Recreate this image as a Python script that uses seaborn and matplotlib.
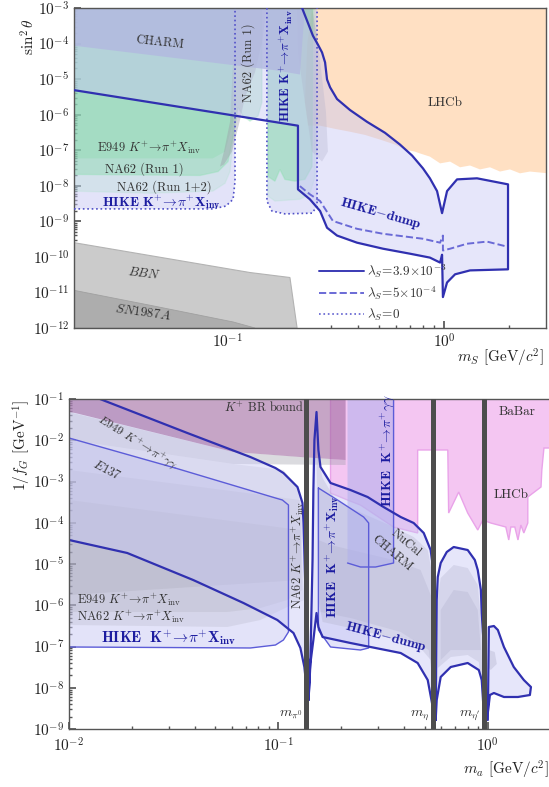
import numpy as np
import matplotlib
matplotlib.use("Agg")
import matplotlib.pyplot as plt
from matplotlib.lines import Line2D
from matplotlib.ticker import LogLocator, NullFormatter
import seaborn as sns

# ======================= data (log10 coordinates) =======================
# ---- upper panel: dark scalar, x = log10(m_S / GeV), y = log10(sin^2 theta)
dump_up_lx = [-0.654, -0.636, -0.604, -0.581, -0.562, -0.548, -0.539, -0.525, -0.493, -0.433,
              -0.355, -0.272, -0.203, -0.147, -0.097, -0.065, -0.032, -0.009, 0.014, 0.060, 0.152, 0.295]
dump_up_ly = [-3.0, -3.28, -3.78, -4.03, -4.25, -4.53, -5.01, -5.23, -5.56, -5.87,
              -6.20, -6.51, -6.84, -7.15, -7.51, -7.79, -8.15, -8.77, -8.15, -7.82, -7.79, -7.96]
dump_lo_lx = [-1.705, -0.673, -0.673, -0.618, -0.571, -0.539, -0.493, -0.401, -0.281, -0.157,
              -0.065, -0.018, -0.009, -0.005, 0.014, 0.051, 0.120, 0.295]
dump_lo_ly = [-5.31, -6.31, -8.10, -8.38, -8.71, -9.18, -9.40, -9.60, -9.77, -9.91,
              -10.02, -10.16, -9.94, -11.13, -10.72, -10.49, -10.38, -10.35]
dump5_lx = [-0.664, -0.618, -0.571, -0.512, -0.401, -0.281, -0.097, -0.018, -0.005, -0.005,
            0.028, 0.106, 0.198, 0.290]
dump5_ly = [-8.01, -8.24, -8.43, -8.99, -9.21, -9.35, -9.49, -9.60, -9.40, -9.82,
            -9.77, -9.63, -9.57, -9.71]
kpi_a_lx = [-1.705, -1.065, -1.005, -0.972, -0.963, -0.963]
kpi_a_ly = [-8.65, -8.65, -8.57, -8.38, -7.87, -3.0]
kpi_b_lx = [-0.816, -0.816, -0.793, -0.733, -0.608, -0.585, -0.585]
kpi_b_ly = [-3.0, -8.43, -8.71, -8.79, -8.77, -8.57, -3.0]

na62r1_a_lx = [-1.705, -0.839, -0.839, -0.857, -0.894, -0.926, -0.949, -0.972, -0.995, -1.041, -1.124, -1.705]
na62r1_a_ly = [-3.0, -3.0, -5.65, -6.04, -6.18, -6.04, -5.79, -6.62, -7.32, -7.60, -7.71, -7.68]
na62r12_a_lx = [-1.705, -0.972, -0.972, -0.986, -1.009, -1.065, -1.355, -1.705]
na62r12_a_ly = [-3.0, -3.0, -6.76, -7.60, -7.93, -8.15, -8.21, -8.15]
e949_lx = [-1.705, -0.972, -0.972, -1.009, -1.065, -1.705]
e949_ly = [-3.0, -3.0, -6.20, -7.04, -7.23, -7.23]
na62r1_b_lx = [-0.811, -0.811, -0.779, -0.756, -0.733, -0.687, -0.641, -0.608, -0.604]
na62r1_b_ly = [-3.0, -7.74, -7.87, -7.54, -7.82, -7.87, -7.82, -7.46, -3.0]
na62r12_b_lx = [-0.811, -0.811, -0.779, -0.664, -0.618, -0.594, -0.594]
na62r12_b_ly = [-3.0, -8.29, -8.43, -8.38, -8.24, -7.74, -3.0]
col_gray_lx = [-0.972, -0.816, -0.839, -0.871, -0.917, -0.940, -0.977, -1.014, -1.032, -1.014, -0.986, -0.972]
col_gray_ly = [-3.0, -3.0, -3.97, -4.81, -5.51, -6.15, -7.04, -7.40, -7.46, -7.04, -6.20, -4.53]
mid_gray_lx = [-0.677, -0.608, -0.581, -0.544, -0.535, -0.562, -0.608, -0.641, -0.673]
mid_gray_ly = [-3.0, -3.0, -3.97, -5.92, -7.04, -7.32, -7.04, -5.65, -4.25]
charm_lx = [-1.705, -0.641, -0.664, -0.779, -1.705]
charm_ly = [-3.0, -3.0, -4.87, -4.75, -4.06]
lhcb_lx = [-0.608, 0.48, 0.48, 0.396, 0.350, 0.304, 0.258, 0.212, 0.166, 0.120, 0.074, 0.028,
           -0.018, -0.065, -0.111, -0.134, -0.180, -0.226, -0.295, -0.364, -0.433, -0.502,
           -0.571, -0.627, -0.641, -0.630]
lhcb_ly = [-3.0, -3.0, -7.65, -7.60, -7.65, -7.54, -7.60, -7.48, -7.54, -7.43, -7.48, -7.32,
           -7.37, -7.18, -7.09, -7.04, -6.98, -6.84, -6.70, -6.57, -6.48, -6.40,
           -6.31, -6.31, -5.65, -4.0]
bbn_lx = [-1.705, -0.894, -0.710, -0.677, -1.705]
bbn_ly = [-9.60, -10.44, -10.58, -12.0, -12.0]
sn_lx = [-1.705, -1.355, -0.972, -0.871, -1.705]
sn_ly = [-10.94, -11.36, -11.83, -12.0, -12.0]

# ---- lower panel: ALP with gluon coupling, x = log10(m_a / GeV), y = log10(1/f_G * GeV)
m_pi0, m_eta, m_etap = 0.135, 0.548, 0.958

dA_up_lx = [-1.852, -1.435, -1.134, -1.014, -0.976, -0.909, -0.885, -0.880, -0.871, -0.866, -0.861]
dA_up_ly = [-1.0, -1.824, -2.406, -2.673, -2.794, -3.133, -3.521, -4.006, -5.630, -7.230, -8.297]
dA_lo_lx = [-2.0, -1.722, -1.407, -1.167, -1.005, -0.928, -0.895, -0.876, -0.866, -0.861]
dA_lo_ly = [-4.418, -4.733, -5.388, -5.945, -6.358, -6.673, -7.036, -7.497, -7.982, -8.297]
dB_lx = [-0.856, -0.847, -0.837, -0.833, -0.828, -0.818, -0.809, -0.799, -0.751, -0.656, -0.574,
         -0.498, -0.416, -0.354, -0.306, -0.273, -0.258, -0.258,
         -0.263, -0.287, -0.335, -0.416, -0.656, -0.789, -0.809, -0.818, -0.833, -0.847, -0.856]
dB_ly = [-8.297, -7.255, -4.903, -3.206, -1.994, -1.315, -2.236, -2.648, -3.036, -3.206, -3.376,
         -3.618, -3.861, -4.006, -4.248, -4.661, -5.218, -8.782,
         -8.467, -7.812, -7.400, -7.158, -6.915, -6.770, -6.527, -6.188, -6.842, -7.400, -8.297]
dC_lx = [-0.249, -0.244, -0.239, -0.225, -0.196, -0.163, -0.096, -0.062, -0.048, -0.033, -0.029,
         -0.019, -0.014, -0.019, -0.029, -0.043, -0.096, -0.177, -0.225, -0.244, -0.249]
dC_ly = [-8.782, -5.873, -5.315, -4.976, -4.709, -4.588, -4.661, -4.903, -5.145, -5.630, -6.188,
         -7.012, -8.782, -8.612, -7.812, -7.570, -7.400, -7.497, -7.739, -8.297, -8.782]
dD_lx = [0.0, 0.005, 0.029, 0.048, 0.077, 0.124, 0.172, 0.206, 0.201, 0.144, 0.077, 0.029, 0.010, 0.0]
dD_ly = [-8.782, -6.527, -6.503, -6.600, -7.012, -7.497, -7.812, -7.982, -8.176, -8.224, -8.224,
         -8.127, -8.176, -8.612]

hk_a_lx = [-2.0, -1.493, -1.014, -0.981, -0.952, -0.952, -0.976, -1.014, -1.134, -2.0]
hk_a_ly = [-1.945, -2.673, -3.400, -3.448, -3.570, -6.648, -6.842, -6.964, -7.036, -7.012]
hk_b_lx = [-0.809, -0.718, -0.593, -0.569, -0.569, -0.608, -0.751, -0.785, -0.809]
hk_b_ly = [-3.158, -3.448, -3.861, -4.006, -7.036, -7.085, -7.012, -6.770, -6.600]
hgg_lx = [-0.670, -0.450, -0.450, -0.536, -0.608, -0.670]
hgg_ly = [-1.0, -1.0, -4.976, -5.073, -5.073, -4.976]
brb_lx = [-2.0, -0.679, -0.679, -0.895, -1.215, -1.971, -2.0]
brb_ly = [-1.0, -1.0, -2.479, -2.406, -2.285, -1.339, -1.315]
e949gg_lx = [-2.0, -1.215, -0.679, -0.679, -1.215, -2.0]
e949gg_ly = [-1.315, -2.285, -2.479, -2.600, -2.576, -1.994]
e137_lx = [-2.0, -1.215, -0.976, -0.909, -0.885, -0.895, -2.0]
e137_ly = [-1.994, -2.576, -2.721, -3.133, -3.933, -5.388, -5.752]
e949k_lx = [-2.0, -0.895, -0.885, -0.957, -1.086, -1.244, -2.0]
e949k_ly = [-2.721, -3.448, -5.630, -5.873, -6.067, -6.164, -6.164]
na62k_lx = [-2.0, -0.895, -0.876, -0.957, -1.086, -1.244, -2.0]
na62k_ly = [-3.448, -4.176, -5.873, -6.042, -6.358, -6.527, -6.479]
nucal_lx = [-0.818, -0.789, -0.727, -0.656, -0.450, -0.354, -0.287, -0.263, -0.258, -0.273,
            -0.321, -0.416, -0.656, -0.789, -0.809]
nucal_ly = [-2.236, -2.915, -3.448, -3.642, -4.103, -4.345, -4.661, -5.315, -8.297, -7.327,
            -7.036, -6.842, -6.552, -6.406, -5.873]
charmb_lx = [-0.809, -0.751, -0.450, -0.321, -0.263, -0.258, -0.282, -0.416, -0.656, -0.799]
charmb_ly = [-4.418, -4.539, -4.903, -5.145, -5.873, -8.055, -7.085, -6.648, -6.309, -6.164]
gEE_lx = [-0.239, -0.225, -0.163, -0.096, -0.048, -0.033, -0.024, -0.043, -0.096, -0.177, -0.239]
gEE_ly = [-5.873, -5.339, -5.024, -5.097, -5.509, -6.358, -8.297, -7.376, -7.206, -7.255, -7.521]
gEE2_lx = [-0.225, -0.163, -0.096, -0.048, -0.033, -0.081, -0.177, -0.225]
gEE2_ly = [-6.115, -5.630, -5.679, -6.115, -7.085, -7.085, -7.085, -7.327]
gR_lx = [0.005, 0.033, 0.043, 0.014, 0.005]
gR_ly = [-7.085, -7.133, -7.424, -7.570, -7.521]
pink_lx = [-0.751, 0.297, 0.297, 0.268, 0.258, 0.254, 0.191, 0.191, 0.172, 0.158, 0.144, 0.129,
           0.110, 0.100, 0.086, 0.014, -0.024, -0.048, -0.096, -0.139, -0.187, -0.191, -0.335,
           -0.335, -0.392, -0.450, -0.608, -0.670, -0.751]
pink_ly = [-1.0, -1.0, -2.188, -2.188, -2.721, -3.133, -3.376, -4.006, -4.248, -4.055, -4.418,
           -4.103, -4.103, -4.418, -4.103, -4.006, -3.933, -4.176, -3.764, -3.255, -3.764, -2.236,
           -2.236, -4.248, -4.176, -4.103, -3.570, -3.448, -3.279]

# ======================= style =======================
sns.set_theme(style="ticks")
plt.rcParams.update({
    "font.family": ["serif"],
    "font.serif": ["cmr10"],
    "mathtext.fontset": "cm",
    "axes.unicode_minus": False,
    "axes.formatter.use_mathtext": True,
    "axes.edgecolor": "#555555",
    "axes.linewidth": 1.0,
    "xtick.direction": "in",
    "ytick.direction": "in",
    "xtick.color": "#555555",
    "ytick.color": "#555555",
    "xtick.labelcolor": "#222222",
    "ytick.labelcolor": "#222222",
    "xtick.labelsize": 11,
    "ytick.labelsize": 11,
    "xtick.major.size": 5,
    "ytick.major.size": 5,
    "xtick.minor.size": 2.5,
    "ytick.minor.size": 2.5,
})

LAV = "#c8c8f5"
GREEN = "#7ad8a0"
GRAY = "#9a9aa6"
DARK = "#3030b0"
THIN = "#5c5cd8"
TXT = "#333333"
HIKE_C = "#1c1ca0"


def P(v):
    return np.power(10.0, np.asarray(v, dtype=float))


def fill_log(ax, lx, ly, **kw):
    ax.fill(P(lx), P(ly), **kw)


def trace_log(ax, lx, ly, **kw):
    sns.lineplot(x=P(lx), y=P(ly), sort=False, estimator=None, ax=ax, legend=False, **kw)


def label(ax, lx, ly, s, **kw):
    ax.text(10 ** lx, 10 ** ly, s, **kw)


def log_axes(ax):
    ax.set_xscale("log")
    ax.set_yscale("log")
    for axis in (ax.xaxis, ax.yaxis):
        axis.set_major_locator(LogLocator(base=10, numticks=30))
        axis.set_minor_locator(LogLocator(base=10, subs=np.arange(2, 10), numticks=300))
        axis.set_minor_formatter(NullFormatter())


fig = plt.figure(figsize=(5.49, 7.87), dpi=100)

# ======================= upper panel =======================
ax = fig.add_axes([74 / 549, 1 - 328 / 787, 472 / 549, 320 / 787])
log_axes(ax)

fill_log(ax, lhcb_lx, lhcb_ly, color="#ffd9b5", alpha=0.8, lw=0, zorder=1.0)
fill_log(ax, bbn_lx, bbn_ly, facecolor="#cbcbcb", edgecolor="#b3b3b3", lw=0.8, zorder=1.0)
fill_log(ax, sn_lx, sn_ly, facecolor="#adadad", edgecolor="#a0a0a0", lw=0.6, zorder=1.05)
fill_log(ax, kpi_a_lx + [-1.705], kpi_a_ly + [-3.0], color=LAV, alpha=0.5, lw=0, zorder=1.1)
fill_log(ax, kpi_b_lx, kpi_b_ly, color=LAV, alpha=0.5, lw=0, zorder=1.1)
fill_log(ax, e949_lx, e949_ly, color=GREEN, alpha=0.25, lw=0, zorder=1.2)
fill_log(ax, na62r1_a_lx, na62r1_a_ly, facecolor=GREEN, alpha=0.35, edgecolor="#8fe3b3", lw=1, zorder=1.25)
fill_log(ax, na62r12_a_lx, na62r12_a_ly, facecolor=GREEN, alpha=0.15, edgecolor="#8fe3b3", lw=1, zorder=1.3)
fill_log(ax, na62r1_b_lx, na62r1_b_ly, facecolor=GREEN, alpha=0.4, edgecolor="#8fe3b3", lw=1, zorder=1.25)
fill_log(ax, na62r12_b_lx, na62r12_b_ly, facecolor=GREEN, alpha=0.15, edgecolor="#8fe3b3", lw=1, zorder=1.3)
fill_log(ax, col_gray_lx, col_gray_ly, color=GRAY, alpha=0.4, lw=0, zorder=1.35)
fill_log(ax, mid_gray_lx, mid_gray_ly, color=GRAY, alpha=0.3, lw=0, zorder=1.35)
fill_log(ax, [-1.705] + dump_up_lx + dump_lo_lx[::-1], [-3.0] + dump_up_ly + dump_lo_ly[::-1],
         color=LAV, alpha=0.45, lw=0, zorder=1.4)
fill_log(ax, charm_lx, charm_ly, color="#b2b8e0", alpha=0.8, lw=0, zorder=1.5)

trace_log(ax, kpi_a_lx, kpi_a_ly, color="#5050c8", linewidth=1.2, linestyle=":", zorder=3)
trace_log(ax, kpi_b_lx, kpi_b_ly, color="#5050c8", linewidth=1.2, linestyle=":", zorder=3)
trace_log(ax, dump5_lx, dump5_ly, color="#6a6ad6", linewidth=1.4, linestyle="--", zorder=3)
trace_log(ax, dump_up_lx + dump_lo_lx[::-1], dump_up_ly + dump_lo_ly[::-1], color=DARK,
          linewidth=1.6, zorder=3.1)

ax.set_xlim(10 ** -1.705, 10 ** 0.470)
ax.set_ylim(1e-12, 1e-3)
ax.set_xlabel("")
ax.set_ylabel("")

label(ax, -1.309, -3.97, "CHARM", fontsize=9, color=TXT, ha="center", va="center", rotation=-6)
label(ax, -0.903, -4.53, "NA62 (Run 1)", fontsize=9, color=TXT, ha="center", va="center", rotation=90)
label(ax, -0.724, -4.62, r"$\mathbf{HIKE}\ \mathbf{K^{+}\!\rightarrow\!\pi^{+}X_{inv}}$", fontsize=9.5,
      color=HIKE_C, ha="center", va="center", rotation=90)
label(ax, 0.005, -5.67, "LHCb", fontsize=9.5, color=TXT, ha="center", va="center")
label(ax, -1.599, -6.93, r"E949 $K^{+}\!\rightarrow\!\pi^{+}X_{\mathrm{inv}}$", fontsize=9, color=TXT,
      ha="left", va="center")
label(ax, -1.562, -7.54, "NA62 (Run 1)", fontsize=9, color=TXT, ha="left", va="center")
label(ax, -1.507, -8.04, "NA62 (Run 1+2)", fontsize=9, color=TXT, ha="left", va="center")
label(ax, -1.576, -8.46, r"$\mathbf{HIKE}\ \mathbf{K^{+}\!\rightarrow\!\pi^{+}X_{inv}}$", fontsize=10,
      color=HIKE_C, ha="left", va="center")
label(ax, -0.290, -8.79, r"$\mathbf{HIKE\!-\!dump}$", fontsize=10, color=HIKE_C, ha="center",
      va="center", rotation=-16, rotation_mode="anchor")
label(ax, -1.382, -10.47, r"$\mathit{BBN}$", fontsize=9.5, color=TXT, ha="center", va="center", rotation=-7)
label(ax, -1.387, -11.55, r"$\mathit{SN}$1987$\mathit{A}$", fontsize=9.5, color=TXT, ha="center",
      va="center", rotation=-8)

handles = [
    Line2D([], [], color="#3a3ab4", lw=1.4, ls="-"),
    Line2D([], [], color="#6a6ad6", lw=1.4, ls="--"),
    Line2D([], [], color="#6060d0", lw=1.2, ls=":"),
]
labels = [r"$\lambda_S\!=\!3.9{\times}10^{-3}$", r"$\lambda_S\!=\!5{\times}10^{-4}$", r"$\lambda_S\!=\!0$"]
leg = ax.legend(handles, labels, loc="lower left", bbox_to_anchor=(0.5, -0.012), frameon=False,
                fontsize=9.5, handlelength=3.4, handletextpad=0.2, labelspacing=0.35, borderpad=0.2)
for t in leg.get_texts():
    t.set_color(TXT)
ax.text(0.995, -0.093, r"$m_S$ [GeV/$c^2$]", transform=ax.transAxes, ha="right", va="center",
        fontsize=11, color="#222222")
ax.text(-0.097, 0.91, r"$\sin^2\theta$", transform=ax.transAxes, ha="center", va="center",
        rotation=90, fontsize=11, color="#222222")

# ======================= lower panel =======================
bx = fig.add_axes([69 / 549, 1 - 729 / 787, 481 / 549, 330 / 787])
log_axes(bx)

fill_log(bx, pink_lx, pink_ly, facecolor="#f4c6f2", edgecolor="#e9a3e9", lw=1.0, zorder=1.0)
fill_log(bx, hk_a_lx, hk_a_ly, color=LAV, alpha=0.5, lw=0, zorder=1.1)
fill_log(bx, hk_b_lx, hk_b_ly, color=LAV, alpha=0.5, lw=0, zorder=1.1)
for gx, gy, a in [(e949gg_lx, e949gg_ly, 0.35), (e137_lx, e137_ly, 0.2), (e949k_lx, e949k_ly, 0.18),
                  (na62k_lx, na62k_ly, 0.18), (nucal_lx, nucal_ly, 0.3), (charmb_lx, charmb_ly, 0.3),
                  (gEE_lx, gEE_ly, 0.3), (gEE2_lx, gEE2_ly, 0.3), (gR_lx, gR_ly, 0.35)]:
    fill_log(bx, gx, gy, color=GRAY, alpha=a, lw=0, zorder=1.2)
fill_log(bx, [-2.0] + dA_up_lx + dA_lo_lx[::-1], [-1.0] + dA_up_ly + dA_lo_ly[::-1],
         color=LAV, alpha=0.45, lw=0, zorder=1.3)
for dx, dy in [(dB_lx, dB_ly), (dC_lx, dC_ly), (dD_lx, dD_ly)]:
    fill_log(bx, dx, dy, color=LAV, alpha=0.45, lw=0, zorder=1.3)
fill_log(bx, hgg_lx, hgg_ly, color="#b0b0ec", alpha=0.55, lw=0, zorder=1.4)
fill_log(bx, brb_lx, brb_ly, color="#a06aa0", alpha=0.6, lw=0, zorder=1.5)

trace_log(bx, hk_a_lx[1:], hk_a_ly[1:], color=THIN, linewidth=1.0, zorder=2.0)
trace_log(bx, hk_a_lx[:2], hk_a_ly[:2], color=THIN, linewidth=1.0, zorder=2.0)
trace_log(bx, hk_b_lx + hk_b_lx[:1], hk_b_ly + hk_b_ly[:1], color=THIN, linewidth=1.0, zorder=2.0)
trace_log(bx, hgg_lx[1:], hgg_ly[1:], color=THIN, linewidth=1.0, zorder=2.0)
trace_log(bx, dA_up_lx + dA_lo_lx[::-1], dA_up_ly + dA_lo_ly[::-1], color=DARK, linewidth=1.6, zorder=2.2)
for dx, dy in [(dB_lx, dB_ly), (dC_lx, dC_ly), (dD_lx, dD_ly)]:
    trace_log(bx, dx, dy, color=DARK, linewidth=1.6, zorder=2.2)

for m in (m_pi0, m_eta, m_etap):
    bx.axvline(m, color="#4d4d4d", lw=3.6, zorder=3)

bx.set_xlim(1e-2, 10 ** 0.297)
bx.set_ylim(1e-9, 1e-1)
bx.set_xlabel("")
bx.set_ylabel("")
bx.tick_params(axis="x", which="major", pad=5)

label(bx, -1.262, -1.218, r"$K^{+}$ BR bound", fontsize=8.8, color=TXT, ha="left", va="center")
label(bx, 0.139, -1.315, "BaBar", fontsize=9.5, color=TXT, ha="center", va="center")
label(bx, 0.110, -3.327, "LHCb", fontsize=9.5, color=TXT, ha="center", va="center")
label(bx, -1.675, -2.067, r"$\mathit{E}$949 $K^{+}\!\rightarrow\!\pi^{+}\gamma\gamma$", fontsize=8.6,
      color=TXT, ha="center", va="center", rotation=-32, rotation_mode="anchor")
label(bx, -1.818, -2.721, r"$\mathit{E}$137", fontsize=9, color=TXT, ha="center", va="center",
      rotation=-28, rotation_mode="anchor")
label(bx, -1.962, -5.873, r"E949 $K^{+}\!\rightarrow\!\pi^{+}X_{\mathrm{inv}}$", fontsize=9, color=TXT,
      ha="left", va="center")
label(bx, -1.962, -6.285, r"NA62 $K^{+}\!\rightarrow\!\pi^{+}X_{\mathrm{inv}}$", fontsize=9, color=TXT,
      ha="left", va="center")
label(bx, -1.526, -6.770, r"$\mathbf{HIKE}\ \ \mathbf{K^{+}\!\rightarrow\!\pi^{+}X_{inv}}$", fontsize=11,
      color=HIKE_C, ha="center", va="center")
label(bx, -0.909, -4.782, r"NA62 $K^{+}\!\rightarrow\!\pi^{+}X_{\mathrm{inv}}$", fontsize=9, color=TXT,
      ha="center", va="center", rotation=90)
label(bx, -0.742, -4.830, r"$\mathbf{HIKE}\ \ \mathbf{K^{+}\!\rightarrow\!\pi^{+}X_{inv}}$", fontsize=10,
      color=HIKE_C, ha="center", va="center", rotation=90)
label(bx, -0.478, -2.236, r"$\mathbf{HIKE}\ \ \mathbf{K^{+}\!\rightarrow\!\pi^{+}\gamma\gamma}$", fontsize=10,
      color=HIKE_C, ha="center", va="center", rotation=90)
label(bx, -0.392, -4.491, "NuCal", fontsize=9, color=TXT, ha="center", va="center", rotation=-40,
      rotation_mode="anchor")
label(bx, -0.459, -4.733, "CHARM", fontsize=9, color=TXT, ha="center", va="center", rotation=-40,
      rotation_mode="anchor")
label(bx, -0.488, -6.770, r"$\mathbf{HIKE\!-\!dump}$", fontsize=10, color=HIKE_C, ha="center",
      va="center", rotation=-15, rotation_mode="anchor")
for m, s in [(m_pi0, r"$m_{\pi^0}$"), (m_eta, r"$m_\eta$"), (m_etap, r"$m_{\eta'}$")]:
    bx.text(m * 0.96, 10 ** -8.83, s, fontsize=10, color=TXT, ha="right", va="bottom")

bx.text(0.998, -0.124, r"$m_a$ [GeV/$c^2$]", transform=bx.transAxes, ha="right", va="center",
        fontsize=11, color="#222222")
bx.text(-0.098, 0.861, r"$1/f_G$ [GeV$^{-1}$]", transform=bx.transAxes, ha="center", va="center",
        rotation=90, fontsize=11, color="#222222")

fig.savefig("out.png", dpi=100)
